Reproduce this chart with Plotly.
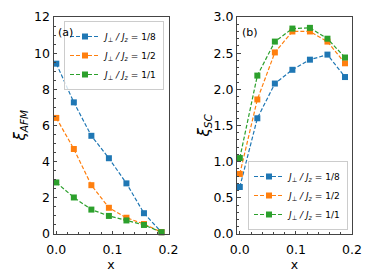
import plotly.graph_objects as go

x_vals = [0.0, 0.03125, 0.0625, 0.09375, 0.125, 0.15625, 0.1875]
series_names = ["<i>J</i><sub>⊥</sub> <i>/</i> <i>J</i><sub><i>z</i></sub> = 1/8",
                "<i>J</i><sub>⊥</sub> <i>/</i> <i>J</i><sub><i>z</i></sub> = 1/2",
                "<i>J</i><sub>⊥</sub> <i>/</i> <i>J</i><sub><i>z</i></sub> = 1/1"]
afm_18 = [9.42, 7.28, 5.43, 4.19, 2.80, 1.15, 0.10]
afm_12 = [6.42, 4.70, 2.70, 1.45, 0.90, 0.55, 0.10]
afm_11 = [2.85, 2.02, 1.35, 1.00, 0.75, 0.50, 0.10]
sc_18 = [0.65, 1.60, 2.08, 2.27, 2.41, 2.48, 2.17]
sc_12 = [0.83, 1.86, 2.51, 2.80, 2.80, 2.66, 2.36]
sc_11 = [1.05, 2.19, 2.66, 2.84, 2.85, 2.70, 2.44]
colors = ["#1f77b4", "#ff7f0e", "#2ca02c"]

# page body has an 8px margin; figure is sized so that it fills the window
OFF = 8
W, H = 374 - OFF, 280 - OFF
FONT = "DejaVu Sans"


def px(page_x):
    return (page_x - OFF) / W


def py(page_y):
    return (H - (page_y - OFF)) / H


fig = go.Figure()


def add(yvals, name, color, xa, ya, legend):
    fig.add_trace(go.Scatter(
        x=x_vals, y=yvals, name=name, mode="lines+markers",
        line=dict(color=color, width=1.2, dash="4px,2px"),
        marker=dict(symbol="square", size=6, color=color),
        xaxis=xa, yaxis=ya, legend=legend, cliponaxis=False))


for yv, nm, c in zip([afm_18, afm_12, afm_11], series_names, colors):
    add(yv, nm, c, "x", "y", "legend")
for yv, nm, c in zip([sc_18, sc_12, sc_11], series_names, colors):
    add(yv, nm, c, "x2", "y2", "legend2")

ybot = py(234)
ytop = py(17)
axcommon = dict(showline=True, linecolor="#444", linewidth=1, mirror=True,
                ticks="inside", ticklen=3.5, tickcolor="#444", showgrid=False,
                zeroline=False, automargin=False,
                tickfont=dict(family=FONT, size=12.5, color="black"))

fig.update_layout(
    width=W, height=H, margin=dict(l=0, r=0, t=0, b=0, pad=0, autoexpand=False),
    paper_bgcolor="white", plot_bgcolor="white",
    font=dict(family=FONT, color="black"),
    xaxis=dict(domain=[px(53.5), px(168.5)], range=[-0.005, 0.2], tickvals=[0, 0.1, 0.2],
               tickformat=".1f", anchor="y", ticklabelstandoff=4,
               minor=dict(ticks="inside", ticklen=2, dtick=0.02, tickcolor="#444"),
               title=dict(text="x", font=dict(family=FONT, size=12.5), standoff=0), **axcommon),
    yaxis=dict(domain=[ybot, ytop], range=[0, 12], dtick=2, anchor="x",
               minor=dict(ticks="inside", ticklen=2, dtick=0.5, tickcolor="#444"), **axcommon),
    xaxis2=dict(domain=[px(237), px(352)], range=[-0.005, 0.2], tickvals=[0, 0.1, 0.2],
                tickformat=".1f", anchor="y2", ticklabelstandoff=4,
                minor=dict(ticks="inside", ticklen=2, dtick=0.02, tickcolor="#444"),
                title=dict(text="x", font=dict(family=FONT, size=12.5), standoff=0), **axcommon),
    yaxis2=dict(domain=[ybot, ytop], range=[0, 3], dtick=0.5, tickformat=".1f", anchor="x2",
                minor=dict(ticks="inside", ticklen=2, dtick=0.1, tickcolor="#444"), **axcommon),
    legend=dict(x=px(164), y=py(21), xanchor="right", yanchor="top",
                bgcolor="rgba(255,255,255,0.8)", bordercolor="#cccccc", borderwidth=1,
                font=dict(family=FONT, size=9), itemwidth=30, tracegroupgap=0),
    legend2=dict(x=px(348), y=py(230), xanchor="right", yanchor="bottom",
                 bgcolor="rgba(255,255,255,0.8)", bordercolor="#cccccc", borderwidth=1,
                 font=dict(family=FONT, size=9), itemwidth=30, tracegroupgap=0),
    annotations=[
        dict(text="(a)", x=px(56), y=py(32), xref="paper", yref="paper",
             xanchor="left", yanchor="middle", showarrow=False, font=dict(family=FONT, size=11)),
        dict(text="(b)", x=px(240), y=py(32), xref="paper", yref="paper",
             xanchor="left", yanchor="middle", showarrow=False, font=dict(family=FONT, size=11)),
        dict(text="<i>ξ</i><sub><i>AFM</i></sub>", x=px(20), y=py(125.5), xref="paper",
             yref="paper", textangle=-90, showarrow=False, xanchor="center", yanchor="middle",
             font=dict(family=FONT, size=15)),
        dict(text="<i>ξ</i><sub><i>SC</i></sub>", x=px(204), y=py(125.5), xref="paper",
             yref="paper", textangle=-90, showarrow=False, xanchor="center", yanchor="middle",
             font=dict(family=FONT, size=15)),
    ],
)

fig.write_html("out.html")
